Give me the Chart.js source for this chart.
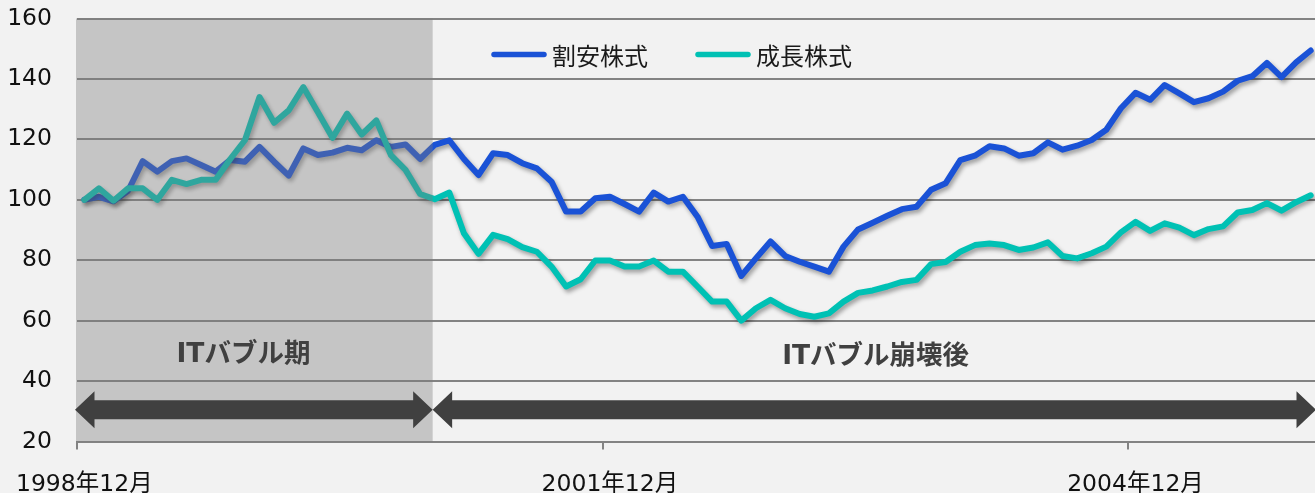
<!DOCTYPE html>
<html>
<head>
<meta charset="utf-8">
<script src="https://cdn.jsdelivr.net/npm/chart.js@4.4.0/dist/chart.umd.min.js"></script>
<style>
  html, body { margin: 0; padding: 0; background: #f2f2f2; overflow: hidden; }
  canvas { display: block; }
</style>
</head>
<body>
<canvas id="chart" width="1318" height="493"></canvas>
<script>
// monthly categories, 1998年12月 .. 2005年12月
const months = [];
let yy = 1998, mm = 12;
for (let i = 0; i < 85; i++) {
  months.push(yy + "年" + mm + "月");
  mm++;
  if (mm > 12) { mm = 1; yy++; }
}
const tickLabels = ["1998年12月", "2001年12月", "2004年12月"];
const seriesNames = ["割安株式", "成長株式"];
const periodNames = ["ITバブル期", "ITバブル崩壊後"];

const valueStocks = [
  100, 101, 99.5, 103, 112.8, 109.3, 112.8, 113.7, 111.5, 109.3,
  113.2, 112.6, 117.5, 112.6, 108, 117, 114.8, 115.6, 117.2, 116.4,
  119.7, 117.5, 118.3, 113.5, 118.2, 119.7, 113.5, 108.2, 115.4, 114.8,
  112.1, 110.4, 106, 96.1, 96.1, 100.5, 101, 98.6, 96.1, 102.4,
  99.4, 101, 94.4, 84.7, 85.4, 74.8, 80.6, 86.2, 81.4, 79.5,
  77.9, 76.2, 84.5, 90.2, 92.4, 94.7, 96.9, 97.7, 103.3, 105.5,
  113.1, 114.6, 117.7, 117, 114.6, 115.4, 119, 116.6, 117.9, 119.8,
  123.2, 130.3, 135.4, 133.1, 138, 135.2, 132.3, 133.6, 135.8, 139.4,
  140.9, 145.3, 140.6, 145.5, 149.4
];
const growthStocks = [
  100, 103.8, 99.7, 103.8, 103.8, 100, 106.6, 105.2, 106.6, 106.6,
  113.5, 119.7, 134, 125.5, 129.6, 137.3, 129, 120.5, 128.5, 121.6,
  126.3, 114.8, 109.9, 101.9, 100.2, 102.4, 88.9, 82.1, 88.4, 87,
  84.3, 82.8, 77.9, 71.3, 73.7, 79.9, 79.9, 77.9, 77.9, 79.9,
  76.2, 76.2, 71.3, 66.3, 66.3, 60, 64.1, 66.9, 64.1, 62.2,
  61.3, 62.4, 66.3, 69.2, 70, 71.3, 72.8, 73.5, 78.7, 79.4,
  82.8, 85, 85.5, 85, 83.4, 84.2, 85.9, 81.4, 80.6, 82.3,
  84.5, 89.2, 92.7, 89.7, 92.2, 90.8, 88.3, 90.3, 91.2, 95.8,
  96.6, 98.9, 96.4, 99.2, 101.5
];

const colors = ["#1a52d6", "#00c1b4"];
const tickFont = { family: "'DejaVu Sans', 'Noto Sans CJK JP'", size: 23.5 };
const gridColor = "#838383";

function drawArrow(ctx, x1, x2, yc) {
  const sh = 9.5, hh = 18.5, hl = 19.5;
  ctx.beginPath();
  ctx.moveTo(x1, yc);
  ctx.lineTo(x1 + hl, yc - hh);
  ctx.lineTo(x1 + hl, yc - sh);
  ctx.lineTo(x2 - hl, yc - sh);
  ctx.lineTo(x2 - hl, yc - hh);
  ctx.lineTo(x2, yc);
  ctx.lineTo(x2 - hl, yc + hh);
  ctx.lineTo(x2 - hl, yc + sh);
  ctx.lineTo(x1 + hl, yc + sh);
  ctx.lineTo(x1 + hl, yc + hh);
  ctx.closePath();
  ctx.fill();
}

const decorPlugin = {
  id: "decor",
  beforeDatasetDraw(chart) {
    const ctx = chart.ctx;
    ctx.save();
    ctx.shadowColor = "rgba(0,0,0,0.35)";
    ctx.shadowBlur = 4;
    ctx.shadowOffsetX = 2;
    ctx.shadowOffsetY = 3;
  },
  afterDatasetDraw(chart) {
    chart.ctx.restore();
  },
  afterDatasetsDraw(chart) {
    const { ctx, chartArea: area, scales: { x, y } } = chart;
    const split = x.getPixelForValue(23.86);
    ctx.save();

    // shaded period
    ctx.fillStyle = "rgba(123,123,123,0.38)";
    ctx.fillRect(area.left - 1, area.top, split - area.left + 1, area.bottom - area.top);

    // arrows
    ctx.fillStyle = "#404040";
    const ay = y.getPixelForValue(30.5);
    drawArrow(ctx, area.left - 2, split, ay);
    drawArrow(ctx, split, 1316, ay);

    // period labels
    ctx.font = "bold 26.5px 'DejaVu Sans', 'Noto Sans CJK JP'";
    ctx.textAlign = "center";
    ctx.textBaseline = "middle";
    ctx.fillText(periodNames[0], x.getPixelForValue(10.9), y.getPixelForValue(48.6));
    ctx.fillText(periodNames[1], x.getPixelForValue(54.2), y.getPixelForValue(48));

    // legend
    ctx.font = "24px 'Noto Sans CJK JP'";
    ctx.textAlign = "left";
    ctx.fillStyle = "#1a1a1a";
    ctx.lineCap = "round";
    ctx.lineWidth = 5.5;
    let lx = 494;
    const ly = 54.5;
    seriesNames.forEach((name, i) => {
      ctx.strokeStyle = colors[i];
      ctx.beginPath();
      ctx.moveTo(lx, ly);
      ctx.lineTo(lx + 50, ly);
      ctx.stroke();
      ctx.fillText(name, lx + 58, ly + 1);
      lx += 58 + ctx.measureText(name).width + 47 + 3;
    });
    ctx.restore();
  }
};

new Chart(document.getElementById("chart"), {
  type: "line",
  data: {
    labels: months,
    datasets: [
      {
        label: seriesNames[0],
        data: valueStocks,
        borderColor: colors[0],
        borderWidth: 6,
        pointRadius: 0,
        tension: 0,
        borderJoinStyle: "round",
        borderCapStyle: "round",
        order: 2,
      },
      {
        label: seriesNames[1],
        data: growthStocks,
        borderColor: colors[1],
        borderWidth: 6,
        pointRadius: 0,
        tension: 0,
        borderJoinStyle: "round",
        borderCapStyle: "round",
        order: 1,
      },
    ],
  },
  options: {
    responsive: false,
    animation: false,
    devicePixelRatio: 1,
    layout: { padding: { top: 18.5, left: 0, right: 0, bottom: 0 } },
    plugins: {
      legend: { display: false },
      tooltip: { enabled: false },
    },
    scales: {
      x: {
        type: "category",
        offset: true,
        grid: {
          offset: true,
          drawOnChartArea: false,
          tickLength: 8,
          lineWidth: 2,
          color: (c) => ([0, 36, 72].includes(c.index) ? gridColor : "rgba(0,0,0,0)"),
        },
        border: { color: gridColor, width: 2 },
        ticks: {
          autoSkip: false,
          maxRotation: 0,
          padding: 21,
          color: "#111",
          font: tickFont,
          callback: (v, i) => (tickLabels.includes(months[i]) ? months[i] : ""),
        },
        afterFit(s) {
          s.height = 51.5;
          s.paddingLeft = 0;
          s.paddingRight = 0;
        },
      },
      y: {
        min: 20,
        max: 160,
        ticks: { stepSize: 20, padding: 25, color: "#111", font: tickFont },
        grid: { color: gridColor, lineWidth: 2, drawTicks: false },
        border: { display: false },
        afterFit(s) {
          s.width = 77;
          s.paddingTop = 0;
          s.paddingBottom = 0;
        },
      },
    },
  },
  plugins: [decorPlugin],
});
</script>
</body>
</html>
